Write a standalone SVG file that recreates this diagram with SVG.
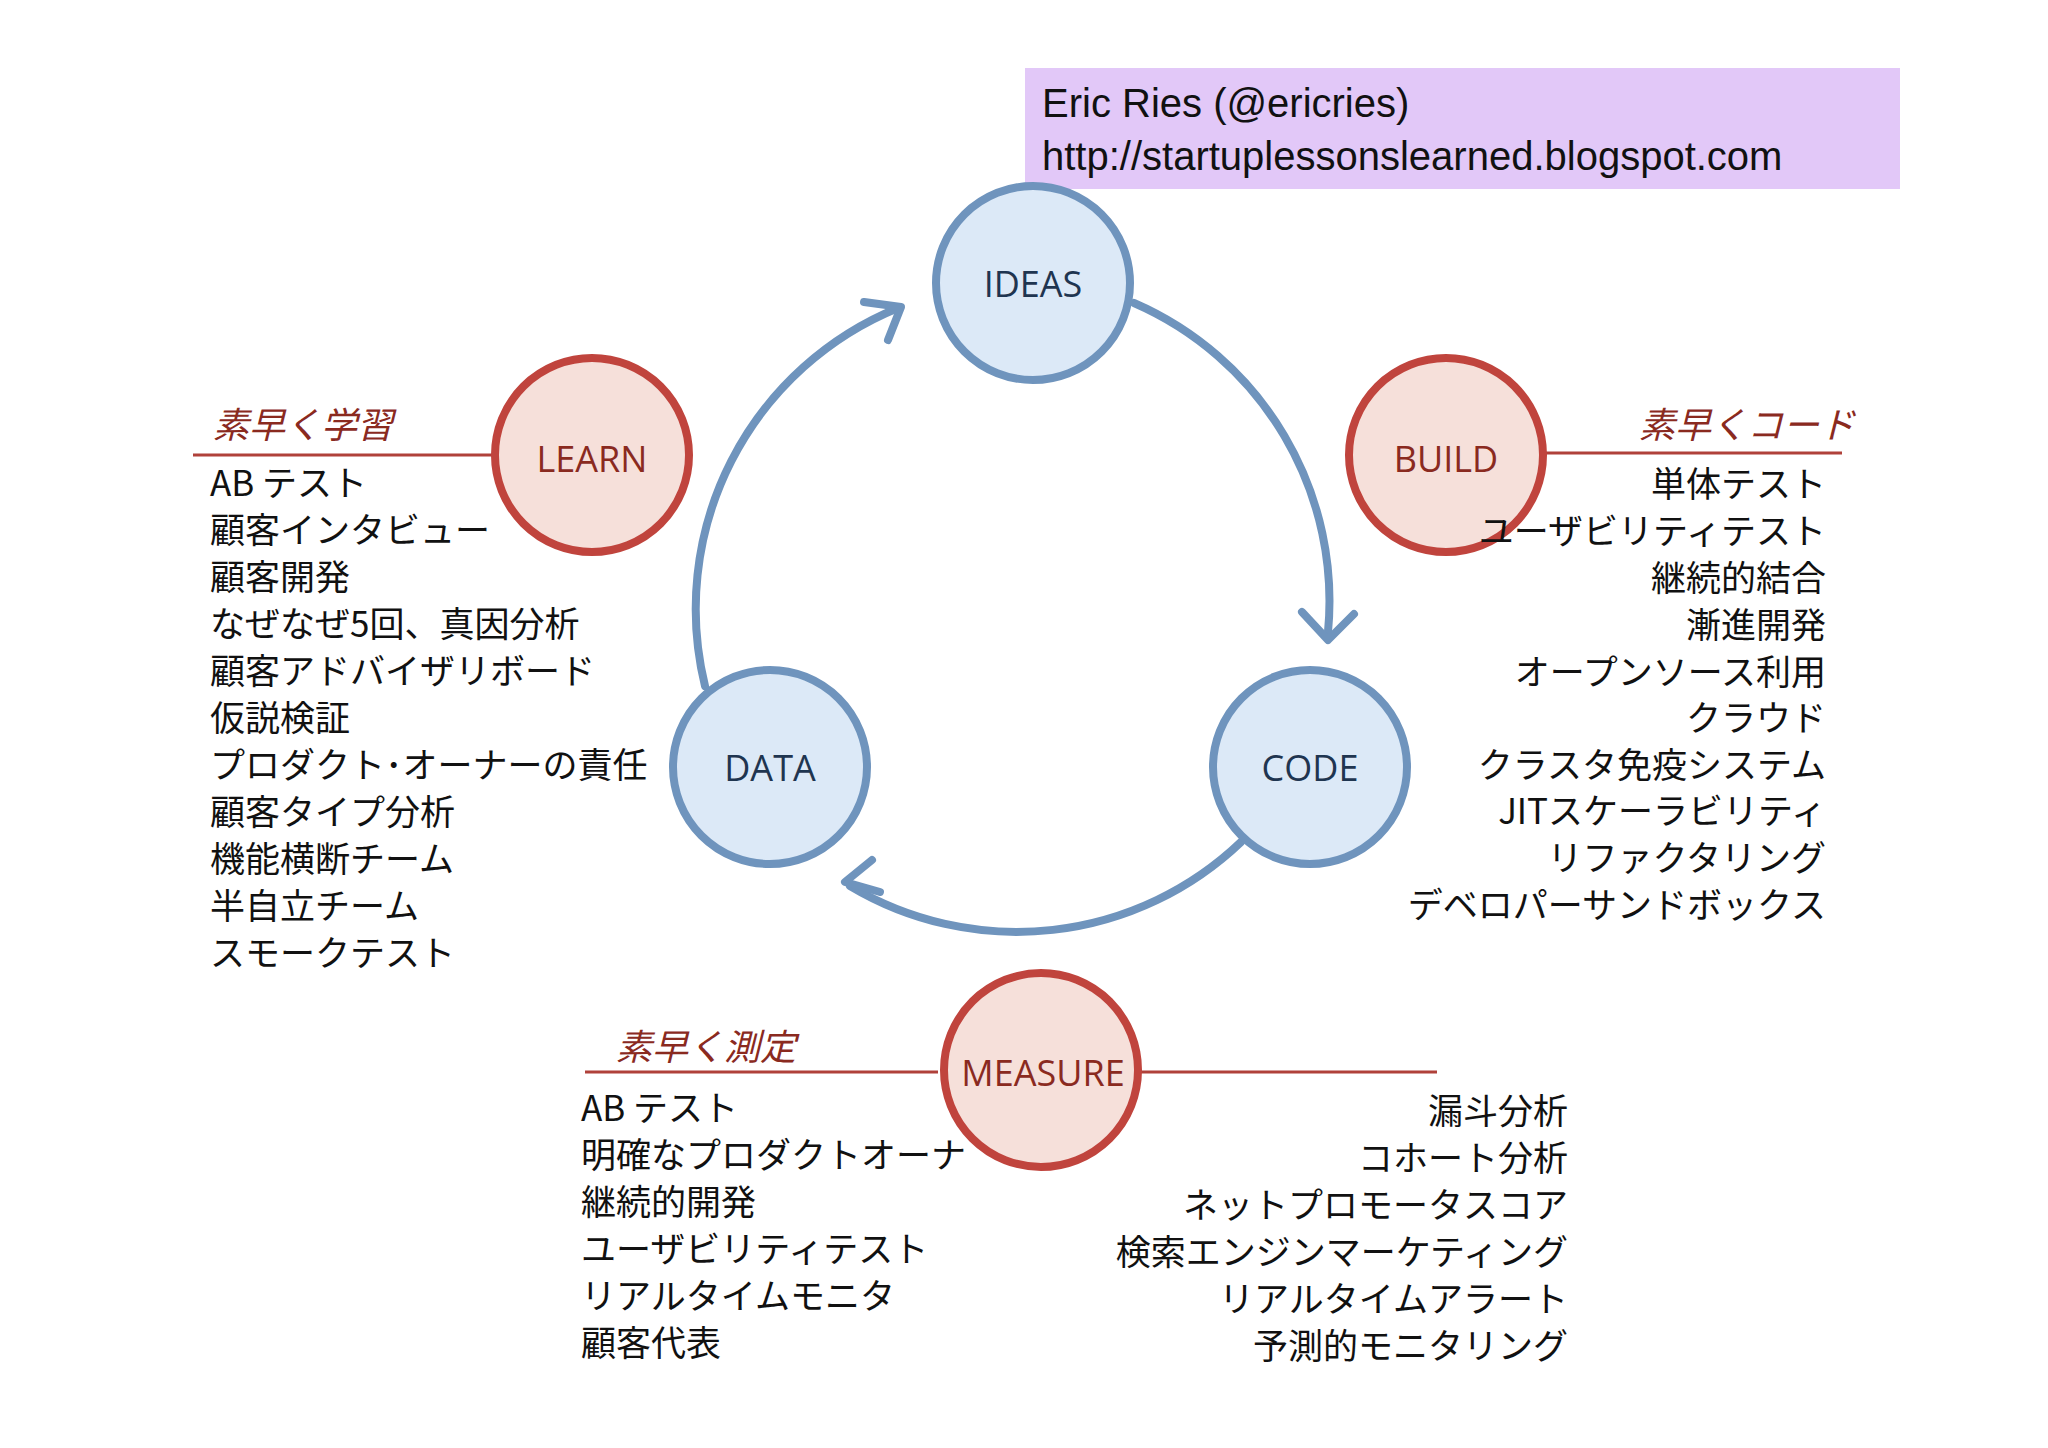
<svg xmlns="http://www.w3.org/2000/svg" width="2048" height="1448" viewBox="0 0 2048 1448">
<style>
.b{fill:#dce9f7;stroke:#6f94bd;stroke-width:8}
.r{fill:#f6e0da;stroke:#c0443d;stroke-width:8}
.bt{font-family:"Open Sans","Noto Sans",sans-serif;font-size:36px;fill:#1f3550;text-anchor:middle;dominant-baseline:central}
.rt{font-family:"Open Sans","Noto Sans",sans-serif;font-size:36px;fill:#8a2a1f;text-anchor:middle;dominant-baseline:central}
.t{font-family:"Noto Sans CJK JP",sans-serif;font-size:35px;fill:#111}
.e{text-anchor:end}
.h{font-family:"Noto Sans CJK JP",sans-serif;font-size:36px;fill:#8a2a1f;font-style:italic}
.ln{stroke:#b0413a;stroke-width:3}
.arc{fill:none;stroke:#6f94bd;stroke-width:8;stroke-linecap:round;stroke-linejoin:round}
</style>
<rect width="2048" height="1448" fill="#fff"/>
<g id="credit">
<rect x="1025" y="68" width="875" height="121" fill="#e2c8f8"/>
<text x="1042" y="117" font-family="Liberation Sans,sans-serif" font-size="40" fill="#111">Eric Ries (@ericries)</text>
<text x="1042" y="170" font-family="Liberation Sans,sans-serif" font-size="40" fill="#111">http://startuplessonslearned.blogspot.com</text>
</g>
<g id="connectors">
<path class="arc" d="M1134,303 A325 325 0 0 1 1328,632"/>
<polyline class="arc" points="1302,612 1328,640 1354,614"/>
<path class="arc" d="M1241,842 A325 325 0 0 1 850,886"/>
<polyline class="arc" points="872,860 845,882 880,892"/>
<path class="arc" d="M705,686 A325 325 0 0 1 898,308"/>
<polyline class="arc" points="864,302 901,307 888,340"/>
<line class="ln" x1="193" y1="455" x2="494" y2="455"/>
<line class="ln" x1="1541" y1="453" x2="1842" y2="453"/>
<line class="ln" x1="585" y1="1072" x2="938" y2="1072"/>
<line class="ln" x1="1140" y1="1072" x2="1437" y2="1072"/>
</g>
<g id="ideas"><circle class="b" cx="1033" cy="283" r="97"/><text class="bt" x="1033" y="283">IDEAS</text></g>
<g id="code"><circle class="b" cx="1310" cy="767" r="97"/><text class="bt" x="1310" y="767">CODE</text></g>
<g id="data"><circle class="b" cx="770" cy="767" r="97"/><text class="bt" x="770" y="767">DATA</text></g>
<g id="learn"><circle class="r" cx="592" cy="455" r="97"/><text class="rt" x="592" y="458">LEARN</text></g>
<g id="build"><circle class="r" cx="1446" cy="455" r="97"/><text class="rt" x="1446" y="458">BUILD</text></g>
<g id="measure"><circle class="r" cx="1041" cy="1070" r="97"/><text class="rt" x="1043" y="1072">MEASURE</text></g>
<g id="learn-list">
<text class="h" x="213" y="438">素早く学習</text>
<text class="t" x="210" y="496">AB テスト</text>
<text class="t" x="210" y="543">顧客インタビュー</text>
<text class="t" x="210" y="590">顧客開発</text>
<text class="t" x="210" y="637">なぜなぜ5回、真因分析</text>
<text class="t" x="210" y="684">顧客アドバイザリボード</text>
<text class="t" x="210" y="731">仮説検証</text>
<text class="t" x="210" y="778">プロダクト･オーナーの責任</text>
<text class="t" x="210" y="825">顧客タイプ分析</text>
<text class="t" x="210" y="872">機能横断チーム</text>
<text class="t" x="210" y="919">半自立チーム</text>
<text class="t" x="210" y="966">スモークテスト</text>
</g>
<g id="build-list">
<text class="h e" x="1855" y="438">素早くコード</text>
<text class="t e" x="1826" y="497">単体テスト</text>
<text class="t e" x="1826" y="544">ユーザビリティテスト</text>
<text class="t e" x="1826" y="591">継続的結合</text>
<text class="t e" x="1826" y="638">漸進開発</text>
<text class="t e" x="1826" y="685">オープンソース利用</text>
<text class="t e" x="1826" y="731">クラウド</text>
<text class="t e" x="1826" y="778">クラスタ免疫システム</text>
<text class="t e" x="1826" y="824">JITスケーラビリティ</text>
<text class="t e" x="1826" y="871">リファクタリング</text>
<text class="t e" x="1826" y="918">デベロパーサンドボックス</text>
</g>
<g id="measure-list">
<text class="h" x="616" y="1060">素早く測定</text>
<text class="t" x="581" y="1121">AB テスト</text>
<text class="t" x="581" y="1168">明確なプロダクトオーナ</text>
<text class="t" x="581" y="1215">継続的開発</text>
<text class="t" x="581" y="1262">ユーザビリティテスト</text>
<text class="t" x="581" y="1309">リアルタイムモニタ</text>
<text class="t" x="581" y="1356">顧客代表</text>
<text class="t e" x="1568" y="1124">漏斗分析</text>
<text class="t e" x="1568" y="1171">コホート分析</text>
<text class="t e" x="1568" y="1218">ネットプロモータスコア</text>
<text class="t e" x="1568" y="1265">検索エンジンマーケティング</text>
<text class="t e" x="1568" y="1312">リアルタイムアラート</text>
<text class="t e" x="1568" y="1359">予測的モニタリング</text>
</g>
</svg>
